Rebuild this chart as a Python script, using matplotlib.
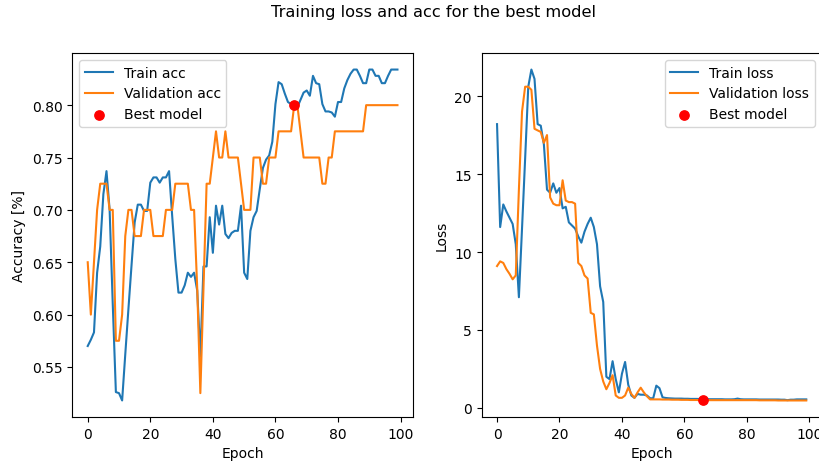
import matplotlib
matplotlib.use("Agg")
import matplotlib.pyplot as plt
import numpy as np

epochs = np.arange(100)

train_acc = [
    0.570, 0.576, 0.583, 0.640, 0.665, 0.715, 0.737, 0.700, 0.610, 0.526,
    0.525, 0.518, 0.562, 0.605, 0.647, 0.688, 0.705, 0.705, 0.699, 0.699,
    0.726, 0.731, 0.731, 0.726, 0.731, 0.731, 0.737, 0.694, 0.653, 0.621,
    0.621, 0.628, 0.640, 0.636, 0.640, 0.623, 0.560, 0.646, 0.646, 0.693,
    0.659, 0.704, 0.686, 0.704, 0.677, 0.673, 0.678, 0.680, 0.680, 0.704,
    0.640, 0.634, 0.680, 0.693, 0.699, 0.720, 0.740, 0.748, 0.752, 0.765,
    0.801, 0.822, 0.820, 0.811, 0.803, 0.801, 0.800, 0.798, 0.805, 0.812,
    0.814, 0.809, 0.828, 0.821, 0.820, 0.801, 0.794, 0.794, 0.793, 0.789,
    0.803, 0.803, 0.816, 0.824, 0.830, 0.834, 0.834, 0.828, 0.821, 0.821,
    0.834, 0.834, 0.828, 0.828, 0.821, 0.821, 0.828, 0.834, 0.834, 0.834,
]

val_acc = [
    0.650, 0.600, 0.650, 0.700, 0.725, 0.725, 0.725, 0.700, 0.700, 0.575,
    0.575, 0.600, 0.675, 0.700, 0.700, 0.675, 0.675, 0.675, 0.700, 0.700,
    0.700, 0.675, 0.675, 0.675, 0.675, 0.700, 0.700, 0.700, 0.725, 0.725,
    0.725, 0.725, 0.725, 0.700, 0.700, 0.625, 0.525, 0.625, 0.725, 0.725,
    0.750, 0.775, 0.750, 0.750, 0.775, 0.750, 0.750, 0.750, 0.750, 0.725,
    0.700, 0.700, 0.700, 0.750, 0.750, 0.750, 0.725, 0.725, 0.750, 0.750,
    0.750, 0.775, 0.775, 0.775, 0.775, 0.775, 0.800, 0.800, 0.775, 0.750,
    0.750, 0.750, 0.750, 0.750, 0.750, 0.725, 0.725, 0.750, 0.750, 0.775,
    0.775, 0.775, 0.775, 0.775, 0.775, 0.775, 0.775, 0.775, 0.775, 0.800,
    0.800, 0.800, 0.800, 0.800, 0.800, 0.800, 0.800, 0.800, 0.800, 0.800,
]

train_loss = [
    18.2, 11.6, 13.05, 12.6, 12.2, 11.8, 10.5, 7.1, 11.5, 16.0,
    20.6, 21.7, 21.1, 18.2, 18.1, 16.9, 14.0, 13.8, 14.4, 13.8,
    14.1, 12.8, 12.9, 11.9, 11.7, 11.5, 11.0, 10.6, 11.3, 11.8,
    12.2, 11.6, 10.5, 7.8, 6.8, 2.0, 1.85, 3.0, 1.85, 1.0,
    2.2, 2.95, 1.5, 0.8, 0.65, 0.9, 0.85, 0.85, 0.8, 0.62,
    0.62, 1.43, 1.27, 0.68, 0.64, 0.62, 0.61, 0.60, 0.60, 0.60,
    0.59, 0.59, 0.58, 0.58, 0.58, 0.57, 0.57, 0.57, 0.56, 0.56,
    0.56, 0.56, 0.56, 0.55, 0.55, 0.55, 0.56, 0.60, 0.56, 0.55,
    0.55, 0.55, 0.55, 0.55, 0.54, 0.54, 0.54, 0.54, 0.54, 0.54,
    0.54, 0.53, 0.53, 0.50, 0.53, 0.53, 0.55, 0.55, 0.55, 0.55,
]

val_loss = [
    9.1, 9.4, 9.3, 8.9, 8.6, 8.25, 8.5, 14.0, 19.0, 20.6,
    20.6, 20.4, 17.9, 17.8, 17.7, 17.0, 17.5, 13.5, 13.1, 13.0,
    13.0, 14.6, 13.3, 13.2, 13.2, 13.1, 9.3, 9.1, 8.5, 8.3,
    6.1, 6.0, 4.0, 2.5, 1.7, 1.2, 1.6, 2.1, 0.8, 0.65,
    0.65, 0.8, 1.3, 0.9, 0.65, 1.0, 1.3, 1.0, 0.75, 0.55,
    0.55, 0.55, 0.55, 0.54, 0.54, 0.54, 0.53, 0.53, 0.53, 0.52,
    0.52, 0.52, 0.51, 0.51, 0.51, 0.50, 0.50, 0.50, 0.50, 0.50,
    0.50, 0.50, 0.50, 0.50, 0.50, 0.50, 0.50, 0.50, 0.50, 0.50,
    0.50, 0.50, 0.50, 0.50, 0.49, 0.49, 0.49, 0.49, 0.49, 0.49,
    0.48, 0.48, 0.48, 0.48, 0.48, 0.48, 0.48, 0.48, 0.48, 0.48,
]

best_epoch = 66

fig, (ax1, ax2) = plt.subplots(1, 2, figsize=(8.19, 4.64), dpi=100)
# the right panel runs past the edge, so the title sits right of centre
fig.suptitle("Training loss and acc for the best model", x=0.529, y=0.99,
             fontsize=11.7)

# accuracy
ax1.plot(epochs, train_acc, label="Train acc")
ax1.plot(epochs, val_acc, label="Validation acc")
ax1.scatter(best_epoch, val_acc[best_epoch], color="red", s=45, zorder=3,
            label="Best model")
ax1.set_xlabel("Epoch")
ax1.set_ylabel("Accuracy [%]")
ax1.legend(loc="upper left")

# loss
ax2.plot(epochs, train_loss, label="Train loss")
ax2.plot(epochs, val_loss, label="Validation loss")
ax2.scatter(best_epoch, val_loss[best_epoch], color="red", s=45, zorder=3,
            label="Best model")
ax2.set_xlabel("Epoch")
ax2.set_ylabel("Loss")
ax2.legend(loc="upper right")

ax1.set_position([0.0882, 0.0991, 0.416, 0.7845])
ax2.set_position([0.588, 0.0991, 0.4153, 0.7845])

fig.savefig("out.png", dpi=100)
